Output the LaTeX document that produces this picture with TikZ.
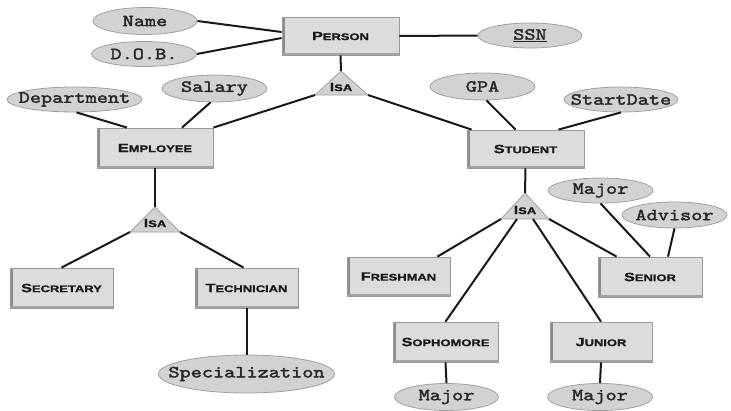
\documentclass[tikz,border=0pt]{standalone}
\usepackage{fontspec}
\usetikzlibrary{shapes.geometric}
\newfontfamily\boxfont{Liberation Sans}[FakeStretch=1.35, FakeBold=1.2]
\newfontfamily\attrfont{lmmono10-regular.otf}[FakeStretch=1.25, FakeBold=2]
\newcommand{\bxt}[2]{{\fontsize{12}{12}\selectfont #1}{\fontsize{9.6}{10}\selectfont #2}}
\newcommand{\atx}[1]{\makebox[0pt]{#1}}
\definecolor{boxfill}{HTML}{DCDCDC}
\definecolor{boxline}{HTML}{9A9A9A}
\definecolor{boxedge}{HTML}{8C8C8C}
\definecolor{ellfill}{HTML}{D2D2D2}
\definecolor{ellline}{HTML}{A0A0A0}
\begin{document}
\begin{tikzpicture}[x=1pt,y=-1pt,
  entity/.style={draw=boxline, fill=boxfill, line width=0.8pt, inner sep=0pt,
    font=\boxfont\bfseries, text=black!90,
    path picture={
      \fill[boxedge] (path picture bounding box.south west) rectangle ([xshift=3pt]path picture bounding box.north west);
      \fill[boxedge!80] (path picture bounding box.south west) rectangle ([yshift=2pt]path picture bounding box.south east);
    }},
  attr/.style={ellipse, draw=ellline, fill=ellfill, line width=0.8pt, inner sep=0pt,
    font=\attrfont\fontsize{17}{17}\selectfont, text=black!85},
  isa/.style={draw=ellline, fill=gray!35, line width=0.8pt},
  isatext/.style={font=\boxfont\bfseries, text=black!90, inner sep=0pt},
  link/.style={line width=2pt, black!90}
]
\useasboundingbox (0,0) rectangle (731,410);
\fill[white] (0,0) rectangle (731,410);

% entities
\node[entity, minimum width=117pt, minimum height=38pt] (person) at (340.5,36) {\bxt{P}{ERSON}};
\node[entity, minimum width=116pt, minimum height=40pt] (employee) at (155,148) {\bxt{E}{MPLOYEE}};
\node[entity, minimum width=117pt, minimum height=38pt] (student) at (525.5,149) {\bxt{S}{TUDENT}};
\node[entity, minimum width=103pt, minimum height=40pt] (secretary) at (61.5,288) {\bxt{S}{ECRETARY}};
\node[entity, minimum width=103pt, minimum height=40pt] (technician) at (246.5,288) {\bxt{T}{ECHNICIAN}};
\node[entity, minimum width=103pt, minimum height=39pt] (freshman) at (398.5,276.5) {\bxt{F}{RESHMAN}};
\node[entity, minimum width=104pt, minimum height=40pt] (senior) at (650,277) {\bxt{S}{ENIOR}};
\node[entity, minimum width=105pt, minimum height=40pt] (sophomore) at (445.5,342) {\bxt{S}{OPHOMORE}};
\node[entity, minimum width=102pt, minimum height=40pt] (junior) at (601,342) {\bxt{J}{UNIOR}};

% attributes
\node[attr, minimum width=104pt, minimum height=27pt] (name) at (145,21) {\atx{Name}};
\node[attr, minimum width=105pt, minimum height=25pt] (dob) at (144,54) {\atx{D.O.B.}};
\node[attr, minimum width=104pt, minimum height=25pt] (ssn) at (530,35.5) {\atx{\underline{SSN}}};
\node[attr, minimum width=135pt, minimum height=25pt] (dept) at (74.5,99.5) {\atx{Department}};
\node[attr, minimum width=105pt, minimum height=27pt] (salary) at (214.5,88.5) {\atx{Salary}};
\node[attr, minimum width=105pt, minimum height=27pt] (gpa) at (482.5,86.5) {\atx{GPA}};
\node[attr, minimum width=114pt, minimum height=25pt] (startdate) at (621,99.5) {\atx{StartDate}};
\node[attr, minimum width=176pt, minimum height=38pt] (spec) at (246.5,374) {\atx{Specialization}};
\node[attr, minimum width=104pt, minimum height=27pt] (major1) at (446.5,397) {\atx{Major}};
\node[attr, minimum width=105pt, minimum height=27pt] (major2) at (600,397) {\atx{Major}};
\node[attr, minimum width=105pt, minimum height=25pt] (major3) at (600.5,190.5) {\atx{Major}};
\node[attr, minimum width=105pt, minimum height=26pt] (advisor) at (674.5,215) {\atx{Advisor}};

% IsA triangles
\coordinate (i1t) at (341,71);
\coordinate (i1l) at (315,95);
\coordinate (i1r) at (368,95);
\filldraw[isa] (i1t) -- (i1l) -- (i1r) -- cycle;
\node[isatext] (isa1) at (341,87) {\bxt{I}{SA}};

\coordinate (i2t) at (155,207);
\coordinate (i2l) at (130,232);
\coordinate (i2r) at (180,232);
\filldraw[isa] (i2t) -- (i2l) -- (i2r) -- cycle;
\node[isatext] (isa2) at (155,223) {\bxt{I}{SA}};

\coordinate (i3t) at (525,193);
\coordinate (i3l) at (501,219);
\coordinate (i3r) at (549,219);
\coordinate (i3b) at (525,219);
\filldraw[isa] (i3t) -- (i3l) -- (i3r) -- cycle;
\node[isatext] (isa3) at (525,210) {\bxt{I}{SA}};

% connectors
\draw[link] (name.east) -- ([yshift=4pt]person.west);
\draw[link] (dob.east) -- ([yshift=-2pt]person.west);
\draw[link] (person.east) -- (ssn.west);
\draw[link] (person.south) -- (i1t);
\draw[link] (i1l) -- (employee.north east);
\draw[link] (i1r) -- ([xshift=5pt]student.north west);
\draw[link] ([xshift=2pt]dept.south) -- ([xshift=-28pt]employee.north);
\draw[link] ([xshift=-4pt]salary.south) -- ([xshift=27pt]employee.north);
\draw[link] ([xshift=4pt]gpa.south) -- ([xshift=-10pt]student.north);
\draw[link] (startdate.south) -- ([xshift=33pt]student.north);
\draw[link] (employee.south) -- (i2t);
\draw[link] (i2l) -- (secretary.north);
\draw[link] (i2r) -- ([xshift=-3pt]technician.north);
\draw[link] (technician.south) -- (spec.north);
\draw[link] (student.south) -- (i3t);
\draw[link] (i3l) -- ([xshift=-13pt]freshman.north east);
\draw[link] ([xshift=-8pt]i3b) -- (sophomore.north);
\draw[link] ([xshift=8pt]i3b) -- (junior.north);
\draw[link] (i3r) -- ([xshift=19pt]senior.north west);
\draw[link] (major3.south) -- (senior.north);
\draw[link] (advisor.south) -- ([xshift=18pt]senior.north);
\draw[link] (sophomore.south) -- (major1.north);
\draw[link] (junior.south) -- (major2.north);
\end{tikzpicture}
\end{document}
